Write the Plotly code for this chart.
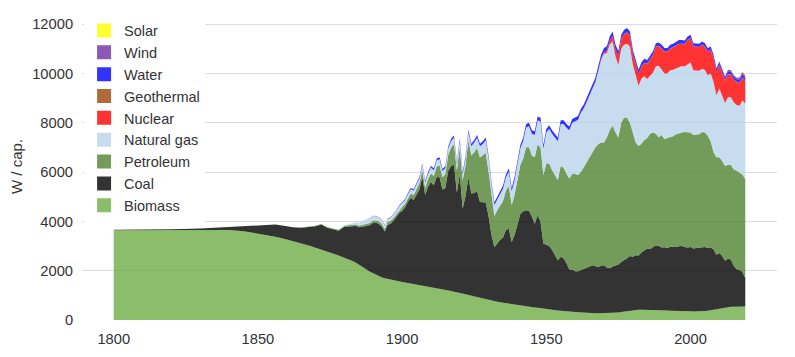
import plotly.graph_objects as go

years = [1800, 1810, 1820, 1830, 1840, 1845, 1850, 1853, 1856, 1859, 1862, 1865,
         1868, 1870, 1872, 1874, 1876, 1878] + list(range(1880, 2020))

biomass = (
    [3640, 3640, 3645, 3650, 3650, 3600, 3510, 3450, 3380, 3300, 3210, 3120, 3010, 2930, 2860, 2780, 2700, 2620]
    + [2520, 2480, 2440, 2380, 2320, 2240, 2160, 2080, 2000, 1950]
    + [1900, 1830, 1760, 1720, 1690, 1660, 1630, 1600, 1580, 1560]
    + [1540, 1520, 1500, 1480, 1460, 1440, 1420, 1400, 1380, 1350]
    + [1320, 1300, 1280, 1260, 1240, 1220, 1200, 1180, 1150, 1130]
    + [1100, 1070, 1040, 1010, 980, 950, 920, 890, 860, 830]
    + [800, 780, 760, 740, 720, 700, 680, 660, 640, 620]
    + [600, 590, 580, 560, 540, 520, 510, 500, 480, 470]
    + [460, 440, 420, 400, 390, 380, 360, 350, 340, 330]
    + [320, 310, 300, 290, 285, 280, 275, 270, 270, 270]
    + [270, 270, 275, 280, 290, 300, 320, 340, 360, 380]
    + [400, 410, 420, 420, 420, 410, 400, 400, 400, 400]
    + [390, 390, 390, 380, 380, 380, 380, 370, 360, 360]
    + [350, 340, 340, 350, 360, 370, 380, 400, 430, 460]
    + [490, 510, 510, 530, 540, 540, 540, 540, 550, 550]
)

coal = (
    [20, 25, 35, 60, 130, 200, 320, 400, 490, 520, 550, 620, 780, 870, 1010, 960, 980, 1000]
    + [1260, 1315, 1360, 1435, 1490, 1520, 1615, 1740, 1825, 1905]
    + [2050, 2115, 2135, 2065, 1900, 2205, 2275, 2420, 2580, 2780]
    + [2880, 3040, 3300, 3480, 3410, 3660, 3870, 4400, 3700, 4050]
    + [4280, 4160, 4520, 4530, 4050, 4130, 4850, 5070, 5150, 4040]
    + [4800, 3450, 3990, 4770, 4150, 4200, 4300, 3900, 3910, 3940]
    + [3400, 2670, 2190, 2360, 2530, 2650, 2970, 3040, 2520, 2830]
    + [3300, 3710, 3820, 3890, 3880, 3680, 3390, 3750, 3500, 2630]
    + [2590, 2560, 2430, 2200, 2030, 2180, 2140, 1950, 1710, 1720]
    + [1660, 1670, 1720, 1790, 1845, 1890, 1945, 1910, 1880, 1930]
    + [1950, 1860, 1825, 1890, 1910, 1950, 2030, 2080, 2140, 2220]
    + [2160, 2220, 2200, 2320, 2410, 2490, 2480, 2560, 2630, 2600]
    + [2550, 2560, 2530, 2590, 2580, 2580, 2610, 2630, 2600, 2580]
    + [2610, 2560, 2580, 2590, 2590, 2590, 2540, 2540, 2430, 2190]
    + [2230, 2090, 1890, 1950, 1910, 1660, 1520, 1490, 1410, 1150]
)

petroleum = (
    [0, 0, 0, 0, 0, 0, 0, 0, 0, 0, 5, 10, 15, 20, 25, 28, 32, 36]
    + [40, 45, 50, 55, 60, 65, 70, 75, 80, 85]
    + [90, 95, 100, 100, 100, 105, 110, 115, 120, 130]
    + [150, 147, 144, 171, 198, 235, 252, 279, 286, 313]
    + [340, 377, 424, 481, 498, 565, 652, 749, 836, 893]
    + [1100, 1140, 1248, 1497, 1546, 1655, 1754, 1803, 1902, 2001]
    + [1810, 1550, 1268, 1346, 1414, 1480, 1588, 1736, 1504, 1632]
    + [1770, 1986, 2142, 2558, 2584, 2470, 2700, 2870, 3020, 2770]
    + [3300, 3350, 3230, 3280, 3250, 3690, 3670, 3630, 3690, 3870]
    + [3940, 3900, 3980, 4110, 4270, 4430, 4580, 4820, 4980, 5000]
    + [4980, 5270, 5600, 5720, 5400, 5150, 5660, 5780, 5700, 5400]
    + [5040, 4570, 4440, 4410, 4470, 4480, 4670, 4640, 4520, 4400]
    + [4560, 4380, 4460, 4430, 4490, 4570, 4590, 4600, 4660, 4660]
    + [4640, 4600, 4580, 4590, 4670, 4640, 4550, 4310, 3940, 3950]
    + [3880, 3850, 3850, 3820, 3850, 3900, 3990, 3960, 3940, 4020]
)

natural_gas = (
    [0] * 18
    + [20, 30, 40, 60, 90, 120, 150, 180, 210, 200]
    + [180, 170, 160, 150, 130, 130, 130, 140, 140, 150]
    + [150, 150, 160, 170, 180, 190, 200, 210, 210, 220]
    + [240, 240, 250, 250, 250, 250, 260, 260, 250, 240]
    + [250, 240, 270, 340, 370, 390, 420, 450, 470, 520]
    + [530, 490, 450, 440, 470, 500, 540, 590, 560, 590]
    + [650, 680, 720, 800, 850, 880, 900, 980, 1050, 1080]
    + [1250, 1400, 1470, 1520, 1580, 1700, 1780, 1870, 1960, 2080]
    + [2130, 2235, 2410, 2385, 2440, 2505, 2640, 2630, 2955, 3350]
    + [3600, 3425, 3470, 3410, 3085, 2945, 3000, 2960, 3000, 3095]
    + [2760, 2730, 2435, 2640, 2590, 2395, 2375, 2435, 2745, 2910]
    + [2655, 2665, 2625, 2725, 2695, 2665, 2660, 2700, 2665, 2790]
    + [2855, 2630, 2625, 2580, 2570, 2540, 2460, 2750, 2865, 2515]
    + [2790, 2660, 2555, 2740, 2730, 2730, 2665, 2700, 3015, 3050]
)

nuclear = (
    [0] * 98
    + [2, 3, 5, 8, 10, 12, 15, 25, 35, 40]
    + [60, 100, 150, 220, 290, 370, 380, 440, 460, 430]
    + [430, 460, 480, 480, 530, 610, 660, 710, 790, 800]
    + [850, 880, 880, 880, 910, 940, 950, 890, 900, 960]
    + [970, 970, 970, 950, 970, 950, 950, 960, 950, 940]
    + [940, 920, 900, 920, 920, 920, 920, 920, 920, 920]
)

geothermal = (
    [0] * 98
    + [0, 0, 0, 1, 1, 1, 1, 2, 2, 3]
    + [3, 4, 4, 5, 5, 6, 6, 7, 8, 9]
    + [10, 11, 12, 12, 13, 13, 13, 13, 13, 13]
    + [13] * 30
)

water = (
    [0] * 18
    + [0, 0, 1, 1, 2, 3, 4, 5, 6, 8]
    + [10, 12, 14, 16, 18, 20, 23, 26, 29, 32]
    + [40, 43, 46, 49, 52, 55, 58, 61, 64, 67]
    + [70, 73, 76, 79, 82, 85, 88, 91, 94, 97]
    + [100, 100, 102, 103, 104, 105, 106, 107, 108, 109]
    + [110, 110, 112, 114, 116, 120, 122, 124, 126, 128]
    + [130, 134, 138, 142, 146, 150, 150, 150, 150, 150]
    + [150] * 10
    + [150, 152, 154, 156, 158, 160, 162, 164, 166, 168]
    + [170, 172, 174, 176, 178, 180, 175, 165, 170, 165]
    + [160, 160, 165, 170, 165, 150, 150, 140, 130, 135]
    + [140, 140, 130, 140, 130, 150, 155, 155, 140, 135]
    + [130, 115, 120, 125, 120, 120, 130, 115, 115, 125]
    + [115, 135, 120, 115, 115, 110, 115, 130, 125, 120]
)

wind = (
    [0] * 137
    + [1]
    + [2, 2, 3, 4, 5, 6, 9, 12, 19, 26]
    + [32, 40, 47, 56, 61, 63, 74, 81, 84, 91]
)

solar = (
    [0] * 148
    + [2, 3, 5, 8, 12, 16, 21, 27, 31, 35]
)

y_ticks = [0, 2000, 4000, 6000, 8000, 10000, 12000]
x_ticks = [1800, 1850, 1900, 1950, 2000]

series = [
    ("Biomass", biomass, "rgba(110,172,70,0.8)"),
    ("Coal", coal, "rgba(0,0,0,0.8)"),
    ("Petroleum", petroleum, "rgba(80,130,49,0.8)"),
    ("Natural gas", natural_gas, "rgba(185,212,235,0.8)"),
    ("Nuclear", nuclear, "rgba(255,0,0,0.8)"),
    ("Geothermal", geothermal, "rgba(156,69,9,0.8)"),
    ("Water", water, "rgba(0,0,255,0.8)"),
    ("Wind", wind, "rgba(111,47,163,0.8)"),
    ("Solar", solar, "rgba(255,255,0,0.8)"),
]

for name, vals, _ in series:
    assert len(vals) == len(years), (name, len(vals), len(years))

fig = go.Figure()
for name, vals, color in series:
    fig.add_trace(go.Scatter(
        x=years, y=vals, name=name, legendgroup=name, showlegend=False,
        stackgroup="energy", mode="lines", line=dict(width=0, color=color),
        fillcolor=color, hovertemplate=name + ": %{y:.0f} W/cap<extra>%{x}</extra>",
    ))
for name, vals, color in series:
    fig.add_trace(go.Scatter(
        x=[None], y=[None], name=name, legendgroup=name, mode="markers",
        marker=dict(symbol="square", size=14, color=color, line=dict(width=0)),
        hoverinfo="skip",
    ))

# The page body has an 8px default margin, so the figure is sized to fit the
# 795x357 window from (8, 8).
font_family = "Arial, 'Liberation Sans', Helvetica, sans-serif"
fig.update_layout(
    width=787, height=349,
    margin=dict(l=74, r=18, t=5, b=37, autoexpand=False),
    paper_bgcolor="white", plot_bgcolor="white",
    font=dict(family=font_family, size=15, color="#333333"),
    showlegend=True,
    legend=dict(
        x=0.003, y=0.995, xanchor="left", yanchor="top",
        bgcolor="white", borderwidth=0, traceorder="reversed",
        font=dict(size=14.5, color="#333333"),
        itemclick="toggle",
    ),
    xaxis=dict(
        range=[1789, 2030], tickvals=x_ticks, showgrid=False, zeroline=False,
        showline=False, ticks="outside", ticklen=5, tickcolor="rgba(0,0,0,0)",
        tickfont=dict(size=14.7, color="#333333"), automargin=False,
    ),
    yaxis=dict(
        range=[0, 12450], tickvals=y_ticks, tickformat="d", showgrid=True,
        gridcolor="#dcdcdc", gridwidth=1.2, zeroline=False, showline=False,
        ticks="outside", ticklen=5, tickcolor="rgba(0,0,0,0)",
        tickfont=dict(size=14.7, color="#333333"), automargin=False,
        title=dict(text="W / cap.", standoff=6, font=dict(size=15, color="#333333")),
    ),
)

fig.write_html("out.html")
